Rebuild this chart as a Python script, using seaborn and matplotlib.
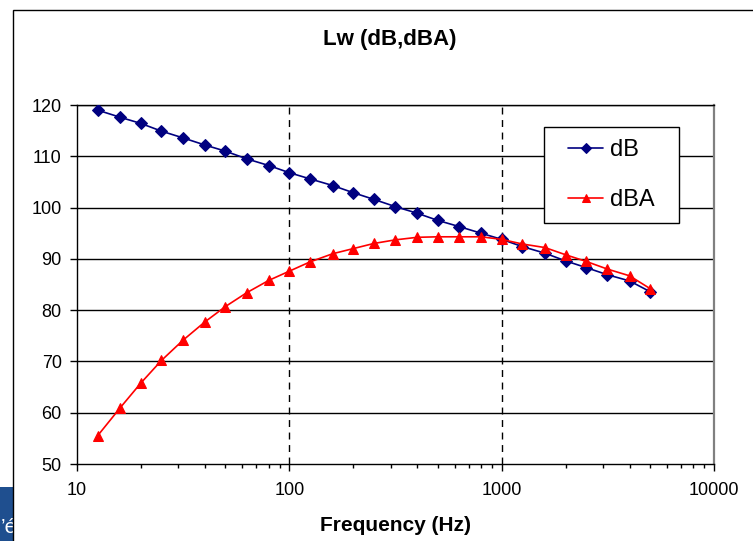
import numpy as np
import pandas as pd
import matplotlib
matplotlib.use("Agg")
import matplotlib.pyplot as plt
import seaborn as sns
from matplotlib.patches import Rectangle
from matplotlib.ticker import FixedLocator, FixedFormatter, LogLocator, NullFormatter

# Third-octave band centre frequencies (Hz)
freq = [12.5, 16, 20, 25, 31.5, 40, 50, 63, 80, 100, 125, 160, 200, 250, 315,
        400, 500, 630, 800, 1000, 1250, 1600, 2000, 2500, 3150, 4000, 5000]
# Sound power level, unweighted (dB)
lw_db = [119.0, 117.6, 116.4, 114.9, 113.6, 112.2, 111.0, 109.5, 108.2, 106.8,
         105.6, 104.3, 102.9, 101.6, 100.2, 98.9, 97.5, 96.3, 95.0, 93.8,
         92.4, 91.1, 89.6, 88.3, 86.9, 85.7, 83.6]
# Sound power level, A-weighted (dBA)
lw_dba = [55.5, 61.0, 65.8, 70.2, 74.1, 77.7, 80.7, 83.4, 85.8, 87.6,
          89.4, 91.0, 92.0, 93.0, 93.7, 94.2, 94.3, 94.3, 94.3, 93.8,
          92.9, 92.2, 90.8, 89.5, 88.0, 86.7, 84.2]
series_names = ["dB", "dBA"]
x_ticks = [10, 100, 1000, 10000]
x_tick_labels = ["10", "100", "1000", "10000"]
y_ticks = [50, 60, 70, 80, 90, 100, 110, 120]

df = pd.DataFrame({"freq": freq, "dB": lw_db, "dBA": lw_dba})

sns.set_style("white")
plt.rcParams["font.family"] = ["Liberation Sans", "DejaVu Sans"]
plt.rcParams["text.color"] = "black"
plt.rcParams["axes.labelcolor"] = "black"

W, H = 753, 541
fig = plt.figure(figsize=(W / 100, H / 100), dpi=100)

# Slide background strip at the lower-left corner
fig.patches.append(Rectangle((0, 0), 13 / W, 54 / H, transform=fig.transFigure,
                             facecolor="#1f4f8f", edgecolor="none", zorder=0.5))
fig.text(0.5 / W, 1 - 533 / H, "\u2019\u00e9", color="white", fontsize=15,
         zorder=0.6, va="baseline", ha="left")
# Chart area frame
fig.patches.append(Rectangle((13 / W, -0.05), 1.05, 1 - 10 / H + 0.05,
                             transform=fig.transFigure, facecolor="white",
                             edgecolor="black", linewidth=1.0, zorder=1))

ax = fig.add_axes([77 / W, 1 - 464 / H, (714 - 77) / W, (464 - 105) / H])
ax.set_zorder(5)
ax.set_facecolor("white")

sns.lineplot(data=df, x="freq", y="dB", ax=ax, color="#000080", marker="D",
             markersize=6, markeredgecolor="#000080", linewidth=1.2,
             label=series_names[0], zorder=3)
sns.lineplot(data=df, x="freq", y="dBA", ax=ax, color="#ff0000", marker="^",
             markersize=7.5, markeredgecolor="#ff0000", linewidth=1.2,
             label=series_names[1], zorder=3)

ax.set_xscale("log")
ax.set_xlim(10, 10000)
ax.set_ylim(50, 120)

ax.xaxis.set_major_locator(FixedLocator(x_ticks))
ax.xaxis.set_major_formatter(FixedFormatter(x_tick_labels))
ax.xaxis.set_minor_locator(LogLocator(base=10, subs=np.arange(2, 10)))
ax.xaxis.set_minor_formatter(NullFormatter())
ax.set_yticks(y_ticks)
ax.set_yticklabels([str(v) for v in y_ticks])

ax.tick_params(axis="both", which="major", direction="out", length=5,
               width=1, color="black", labelsize=13, labelcolor="black")
ax.tick_params(axis="x", which="major", pad=8)
ax.tick_params(axis="y", which="major", pad=6, left=True)
ax.tick_params(axis="x", which="minor", direction="out", length=3, width=1,
               color="black", bottom=True)
ax.tick_params(axis="x", which="major", bottom=True)

# Gridlines: solid horizontal, dashed vertical at decades
ax.grid(False)
for v in y_ticks[1:]:
    ax.axhline(v, color="black", linewidth=1.0, zorder=1)
for v in x_ticks[1:-1]:
    ax.axvline(v, color="black", linewidth=1.0, linestyle=(0, (5, 4)), zorder=1)

for side in ["left", "bottom", "top"]:
    ax.spines[side].set_color("black")
    ax.spines[side].set_linewidth(1.0)
ax.spines["right"].set_color("#808080")
ax.spines["right"].set_linewidth(1.6)

ax.set_ylabel("")
ax.set_xlabel("Frequency (Hz)", fontsize=15, fontweight="bold", color="black")
ax.xaxis.set_label_coords(0.5, -0.145)

ax.text(389.5 / W, 1 - 40 / H, "Lw (dB,dBA)", transform=fig.transFigure,
        ha="center", va="center", fontsize=16, fontweight="bold", color="black")

# Legend box
bx0, bx1, by0, by1 = 544, 679, 127, 223
to_ax_x = lambda px: (px - 77) / (714 - 77)
to_ax_y = lambda py: (464 - py) / (464 - 105)
ax.add_patch(Rectangle((to_ax_x(bx0), to_ax_y(by1)),
                       to_ax_x(bx1) - to_ax_x(bx0), to_ax_y(by0) - to_ax_y(by1),
                       transform=ax.transAxes, facecolor="white",
                       edgecolor="black", linewidth=1.0, zorder=4,
                       clip_on=False))
leg = ax.legend(loc="center",
                bbox_to_anchor=(to_ax_x((bx0 + bx1) / 2), to_ax_y((by0 + by1) / 2)),
                frameon=False, fontsize=17, handlelength=1.5,
                handletextpad=0.3, labelspacing=1.2, borderpad=0.0,
                markerscale=0.85, labelcolor="black")
leg.set_zorder(6)

fig.savefig("out.png", dpi=100)
